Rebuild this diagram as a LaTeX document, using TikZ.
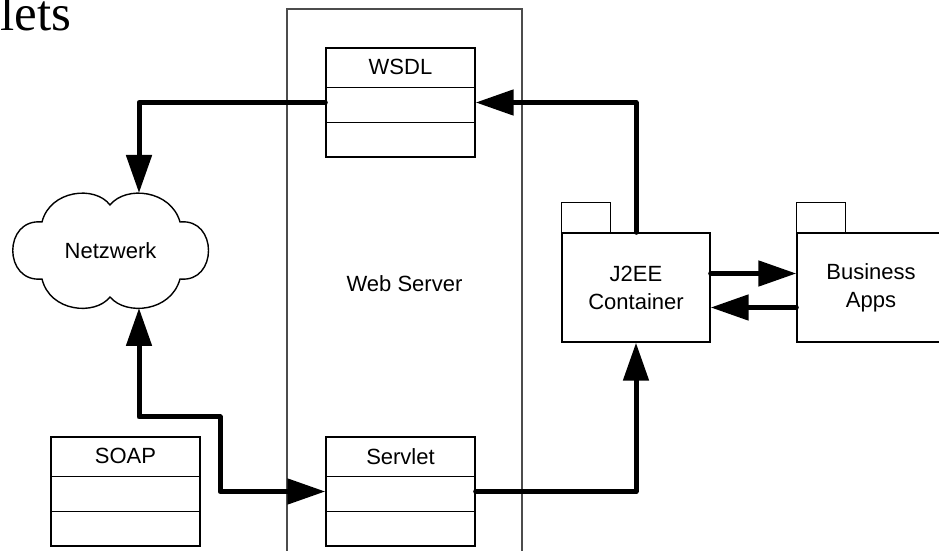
\documentclass[tikz,border=0pt]{standalone}
\usepackage{fontspec}
\setmainfont{Liberation Sans}
\newfontfamily\titlefont{Liberation Serif}
\usetikzlibrary{arrows.meta}

\tikzset{
  bigtip/.tip={Triangle[length=19pt,width=12.5pt]},
  link/.style={line width=2.5pt, line cap=round, line join=round},
  classbox/.style={draw, line width=0.7pt, minimum width=74.5pt, minimum height=54.5pt, inner sep=0pt},
  pkgbox/.style={draw, line width=0.7pt, minimum width=74pt, minimum height=54.5pt, align=center, inner sep=0pt},
}

\begin{document}
\begin{tikzpicture}[x=0.5pt, y=-0.5pt, font=\fontsize{11pt}{14pt}\selectfont]
  \useasboundingbox (0,0) rectangle (939,551);
  \clip (0,0) rectangle (939,551);

  % server frame
  \node[draw=black!70, line width=0.6pt, minimum width=117.5pt, minimum height=275pt] (websrv) at (404.5,284) {Web Server};

  % class boxes
  \node[classbox] (wsdl) at (400.5,102.5) {};
  \node[classbox] (servlet) at (400.5,491.5) {};
  \node[classbox] (soap) at (125.5,491.5) {};
  \foreach \c/\t in {wsdl/WSDL, servlet/Servlet, soap/SOAP} {
    \node (\c-name) at ([yshift=-10pt]\c.north) {\t};
    \draw[line width=0.7pt] ([yshift=-20pt]\c.north west) -- ([yshift=-20pt]\c.north east);
    \draw[line width=0.7pt] ([yshift=-37.5pt]\c.north west) -- ([yshift=-37.5pt]\c.north east);
  }

  % packages
  \node[pkgbox] (j2ee) at (636,287.5) {J2EE\\Container};
  \node[pkgbox] (apps) at (871,287.5) {Business\\Apps};
  \foreach \p in {j2ee, apps}
    \draw[line width=0.7pt] (\p.north west) rectangle ++(24.5pt,15pt);

  % cloud, six puffs
  \draw[line width=0.7pt] (42,222)
    .. controls (50,190) and (95,185) .. (110,205)
    .. controls (126,185) and (171,190) .. (180,222)
    .. controls (218,218) and (218,283) .. (180,279)
    .. controls (171,312) and (126,316) .. (110,297)
    .. controls (95,316) and (50,312) .. (42,279)
    .. controls (3,283) and (3,218) .. cycle;
  \node (netz) at (110.5,251) {Netzwerk};
  \coordinate (netz-top) at (139,193);
  \coordinate (netz-bot) at (139,308);

  % connections
  \draw[link, -bigtip] (wsdl.west) -| (netz-top);
  \draw[link, bigtip-bigtip] (netz-bot) |- (220,417) |- (servlet.west);
  \draw[link, -bigtip] (servlet.east) -| (j2ee.south);
  \draw[link, -bigtip] (j2ee.north) |- (wsdl.east);
  \draw[link, -bigtip] ([yshift=7pt]j2ee.east) -- ([yshift=7pt]apps.west);
  \draw[link, -bigtip] ([yshift=-10pt]apps.west) -- ([yshift=-10pt]j2ee.east);

  \node[anchor=base west, inner sep=0pt, font=\titlefont\fontsize{25.5pt}{30pt}\selectfont] (title) at (0,31) {lets};
\end{tikzpicture}
\end{document}
